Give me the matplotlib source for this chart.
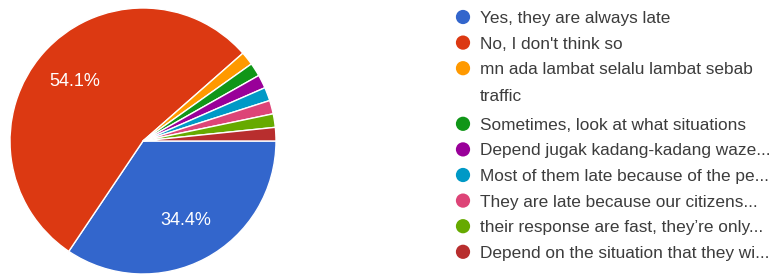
import matplotlib
matplotlib.use("Agg")
import matplotlib.pyplot as plt
import numpy as np

labels = [
    "Yes, they are always late",
    "No, I don't think so",
    "mn ada lambat selalu lambat sebab\ntraffic",
    "Sometimes, look at what situations",
    "Depend jugak kadang-kadang waze...",
    "Most of them late because of the pe...",
    "They are late because our citizens...",
    "their response are fast, they\u2019re only...",
    "Depend on the situation that they wi...",
]
counts = [21, 33, 1, 1, 1, 1, 1, 1, 1]
colors = ["#3366cc", "#dc3912", "#ff9900", "#109618", "#990099",
          "#0099c6", "#dd4477", "#66aa00", "#b82e2e"]

plt.rcParams['font.family'] = ['Liberation Sans', 'DejaVu Sans']

W, H = 780, 275
fig = plt.figure(figsize=(W / 100, H / 100), dpi=100)
fig.patch.set_facecolor("white")

# pie
cx, cy, r = 143, 141, 133
ax = fig.add_axes([(cx - r) / W, (H - cy - r) / H, 2 * r / W, 2 * r / H])
ax.pie(counts, colors=colors, startangle=0, counterclock=False,
       wedgeprops=dict(edgecolor="white", linewidth=1))

total = sum(counts)
ang = 0.0
for c in counts:
    sweep = c / total * 360
    mid = np.deg2rad(-(ang + sweep / 2))
    if c / total > 0.05:
        ax.text(0.68 * np.cos(mid), 0.68 * np.sin(mid), "%.1f%%" % (c / total * 100),
                color="white", fontsize=13, ha="center", va="center")
    ang += sweep
ax.set_xlim(-1, 1)
ax.set_ylim(-1, 1)
ax.set_aspect("equal")
ax.axis("off")

# legend
lg = fig.add_axes([0, 0, 1, 1])
lg.set_xlim(0, W)
lg.set_ylim(H, 0)
lg.axis("off")
y = 17
step = 25.6
wrap = 30
for lab, col in zip(labels, colors):
    lg.scatter([463], [y], s=105, color=col, edgecolors="none")
    for k, part in enumerate(lab.split("\n")):
        lg.text(480, y + 6 + k * 27, part, fontsize=12.4, color="#3c3c3c",
                va="baseline", ha="left")
    y += step + wrap * lab.count("\n")

fig.savefig("out.png", dpi=100, facecolor="white")
